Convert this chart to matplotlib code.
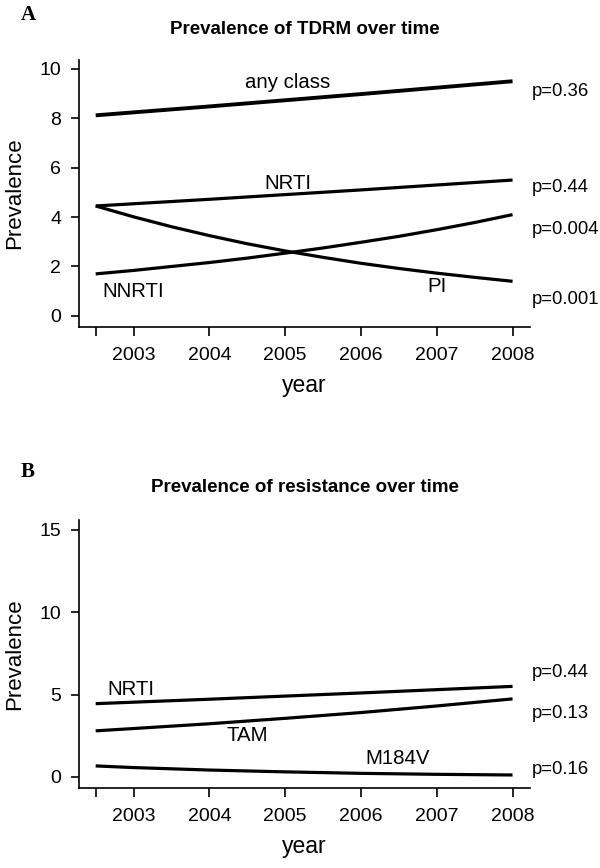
import matplotlib
matplotlib.use("Agg")
import matplotlib.pyplot as plt

plt.rcParams['font.family'] = ['Liberation Sans', 'DejaVu Sans']

# --- data ---
anos = [2002.5, 2003, 2004, 2005, 2006, 2007, 2008]
anos_fino = [2002.5, 2003, 2003.5, 2004, 2004.5, 2005, 2005.5,
             2006, 2006.5, 2007, 2007.5, 2008]

# painel A: prevalencia de TDRM (%)
any_class = [8.12, 8.24, 8.48, 8.73, 8.98, 9.24, 9.50]
nrti_a = [4.45, 4.54, 4.72, 4.91, 5.10, 5.30, 5.50]
pi = [4.45, 4.01, 3.61, 3.25, 2.92, 2.63, 2.37, 2.13, 1.92, 1.73, 1.56, 1.40]
nnrti = [1.70, 1.84, 2.00, 2.16, 2.34, 2.54, 2.75, 2.98, 3.22, 3.49, 3.78, 4.10]
pvals_a = ['p=0.36', 'p=0.44', 'p=0.004', 'p=0.001']

# painel B: prevalencia de resistencia (%)
nrti_b = [4.45, 4.54, 4.72, 4.91, 5.10, 5.30, 5.50]
tam = [2.80, 2.94, 3.23, 3.56, 3.91, 4.31, 4.74]
m184v = [0.67, 0.57, 0.42, 0.31, 0.22, 0.16, 0.12]
pvals_b = ['p=0.44', 'p=0.13', 'p=0.16']

xticks = [2002.5, 2003, 2004, 2005, 2006, 2007, 2008]
xticklabels = ['', '2003', '2004', '2005', '2006', '2007', '2008']

fig = plt.figure(figsize=(6, 8.68), dpi=100)

W, H = 600, 868


def caixa(esq, topo, dir_, baixo):
    return [esq / W, 1 - baixo / H, (dir_ - esq) / W, (baixo - topo) / H]


def estilo(ax, ylim, yticks):
    ax.set_xlim(2002.28, 2008.23)
    ax.set_ylim(*ylim)
    for s in ('top', 'right'):
        ax.spines[s].set_visible(False)
    for s in ('left', 'bottom'):
        ax.spines[s].set_linewidth(1.2)
    ax.set_xticks(xticks)
    ax.set_xticklabels(xticklabels)
    ax.set_yticks(yticks)
    ax.tick_params(axis='x', direction='out', length=6.5, width=1.2,
                   pad=8, labelsize=14)
    ax.tick_params(axis='y', direction='out', length=5.8, width=1.2,
                   pad=7, labelsize=14)
    ax.set_xlabel('year', fontsize=16.5, labelpad=7)
    ax.set_ylabel('Prevalence', fontsize=16, labelpad=10)


# --- Painel A ---
axA = fig.add_axes(caixa(79, 60, 530, 327))
axA.plot(anos, any_class, color='black', lw=2.8, solid_capstyle='butt')
axA.plot(anos, nrti_a, color='black', lw=2.3, solid_capstyle='butt')
axA.plot(anos_fino, pi, color='black', lw=2.3, solid_capstyle='butt')
axA.plot(anos_fino, nnrti, color='black', lw=2.3, solid_capstyle='butt')
estilo(axA, (-0.45, 10.36), [0, 2, 4, 6, 8, 10])

axA.text(2005.03, 9.43, 'any class', ha='center', va='center', fontsize=14.7)
axA.text(2005.03, 5.38, 'NRTI', ha='center', va='center', fontsize=14.7)
axA.text(2007.0, 1.17, 'PI', ha='center', va='center', fontsize=14.7)
axA.text(2003.0, 0.97, 'NNRTI', ha='center', va='center', fontsize=14.7)
for txt, yv in zip(pvals_a, [9.1, 5.18, 3.48, 0.65]):
    axA.text(2008.26, yv, txt, ha='left', va='center', fontsize=13.3, clip_on=False)

fig.text(305 / W, 1 - 29 / H, 'Prevalence of TDRM over time', ha='center',
         va='center', fontsize=13.5, fontweight='bold')
fig.text(21 / W, 1 - 15 / H, 'A', ha='left', va='center', fontsize=15,
         fontweight='bold', family='Liberation Serif')

# --- Painel B ---
axB = fig.add_axes(caixa(79, 520, 530, 788))
axB.plot(anos, nrti_b, color='black', lw=2.3, solid_capstyle='butt')
axB.plot(anos, tam, color='black', lw=2.3, solid_capstyle='butt')
axB.plot(anos, m184v, color='black', lw=2.3, solid_capstyle='butt')
estilo(axB, (-0.67, 15.6), [0, 5, 10, 15])

axB.text(2002.97, 5.3, 'NRTI', ha='center', va='center', fontsize=14.7)
axB.text(2004.5, 2.5, 'TAM', ha='center', va='center', fontsize=14.7)
axB.text(2006.49, 1.1, 'M184V', ha='center', va='center', fontsize=14.7)
for txt, yv in zip(pvals_b, [6.32, 3.83, 0.43]):
    axB.text(2008.26, yv, txt, ha='left', va='center', fontsize=13.3, clip_on=False)

fig.text(305 / W, 1 - 488 / H, 'Prevalence of resistance over time', ha='center',
         va='center', fontsize=13.5, fontweight='bold')
fig.text(21 / W, 1 - 472 / H, 'B', ha='left', va='center', fontsize=15,
         fontweight='bold', family='Liberation Serif')

fig.savefig('out.png', dpi=100)
